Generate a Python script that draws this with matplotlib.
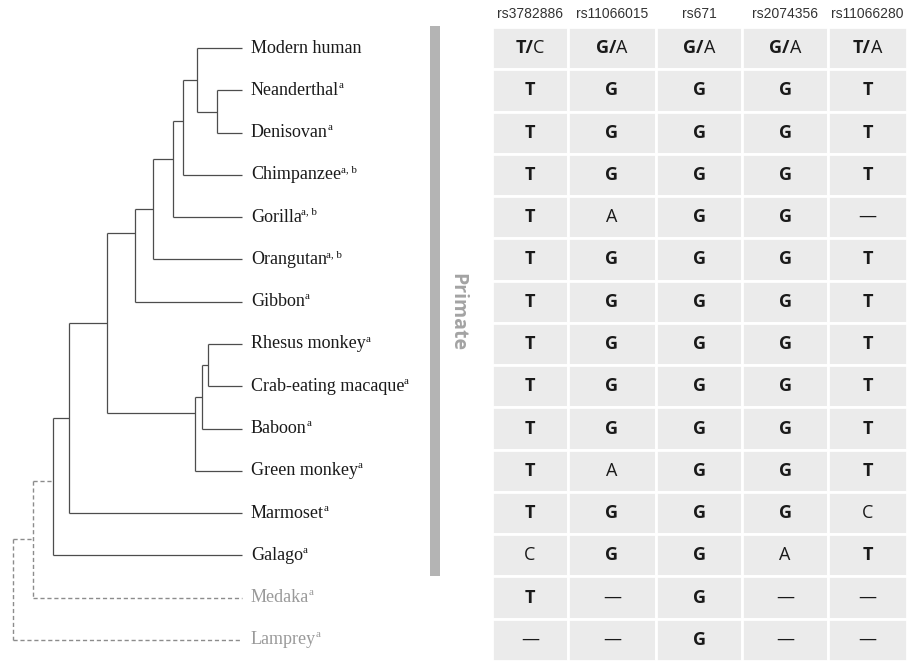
import numpy as np
import matplotlib.pyplot as plt
from matplotlib.patches import Rectangle

# ---- data -------------------------------------------------------------
species = ["Modern human", "Neanderthal", "Denisovan", "Chimpanzee", "Gorilla",
           "Orangutan", "Gibbon", "Rhesus monkey", "Crab-eating macaque", "Baboon",
           "Green monkey", "Marmoset", "Galago", "Medaka", "Lamprey"]
notes = ["", "a", "a", "a, b", "a, b", "a, b", "a", "a", "a", "a", "a", "a", "a", "a", "a"]
outgroups = ["Medaka", "Lamprey"]

snps = ["rs3782886", "rs11066015", "rs671", "rs2074356", "rs11066280"]
major = ["T", "G", "G", "G", "T"]
minor = ["C", "A", "A", "A", "A"]
# one string per non-human species, '-' = no ortholog base
alleles = ["TGGGT",   # Neanderthal
           "TGGGT",   # Denisovan
           "TGGGT",   # Chimpanzee
           "TAGG-",   # Gorilla
           "TGGGT",   # Orangutan
           "TGGGT",   # Gibbon
           "TGGGT",   # Rhesus monkey
           "TGGGT",   # Crab-eating macaque
           "TGGGT",   # Baboon
           "TAGGT",   # Green monkey
           "TGGGC",   # Marmoset
           "CGGAT",   # Galago
           "T-G--",   # Medaka
           "--G--"]   # Lamprey

# internal nodes: name, depth (distance from tips), children, split point
tree = [("ND", 25, [1, 2], 0.5),
        ("H", 45, [0, "ND"], 0.5),
        ("HC", 59, ["H", 3], 0.43),
        ("HCG", 69, ["HC", 4], 0.40),
        ("GA", 89, ["HCG", 5], 0.5),
        ("Apes", 107, ["GA", 6], 0.26),
        ("RC", 34, [7, 8], 0.5),
        ("RCB", 40, ["RC", 9], 0.5),
        ("OWM", 47, ["RCB", 10], 0.22),
        ("Catarrhini", 135, ["Apes", "OWM"], 0.5),
        ("Anthropoidea", 173, ["Catarrhini", 11], 0.5),
        ("Primates", 189, ["Anthropoidea", 12], 0.46),
        ("Vert", 209, ["Primates", 13], 0.5),
        ("root", 229, ["Vert", 14], 0.5)]
dashed_nodes = {"Vert", "root"}

# ---- layout -----------------------------------------------------------
W, H = 907, 661
tip_x = 242
label_x = 251
table_top, table_bot = 27, 661
col_edges = [492, 568, 656, 742, 828, 907]
n_rows = len(species)
row_h = (table_bot - table_top) / n_rows

fig = plt.figure(figsize=(W / 100, H / 100), dpi=100)
ax = fig.add_axes([0, 0, 1, 1])
ax.set_xlim(0, W)
ax.set_ylim(H, 0)
ax.axis("off")
renderer = fig.canvas.get_renderer()


def row_y(i):
    return table_top + row_h * (i + 0.5)


# ---- tree -------------------------------------------------------------
pos = {i: (tip_x, row_y(i)) for i in range(n_rows)}
for name, depth, kids, split in tree:
    ys = [pos[k][1] for k in kids]
    x = tip_x - depth
    pos[name] = (x, ys[0] + split * (ys[-1] - ys[0]))

for name, depth, kids, split in tree:
    x, _ = pos[name]
    ys = [pos[k][1] for k in kids]
    if name in dashed_nodes:
        style = dict(color="#8c8c8c", lw=1.0, ls=(0, (3, 2)))
    else:
        style = dict(color="#4d4d4d", lw=0.9)
    ax.plot([x, x], [ys[0], ys[-1]], **style, solid_capstyle="butt")
    for k in kids:
        kx, ky = pos[k]
        ax.plot([x, kx], [ky, ky], **style, solid_capstyle="butt")

for i, (sp, note) in enumerate(zip(species, notes)):
    col = "#9a9a9a" if sp in outgroups else "#1a1a1a"
    y = row_y(i)
    t = ax.text(label_x, y, sp, fontsize=13, family="Liberation Serif",
                color=col, ha="left", va="center")
    if note:
        w = t.get_window_extent(renderer).width
        ax.text(label_x + w - 0.5, y - 5, note, fontsize=8,
                family="Liberation Serif", color=col, ha="left", va="center")

# primate bar
ax.add_patch(Rectangle((430, table_top - 1), 10, 577 - table_top,
                       facecolor="#b4b4b4", edgecolor="none"))
ax.text(457, 312, "Primate", rotation=-90, fontsize=14, weight="bold",
        family="Open Sans", color="#a3a3a3", ha="center", va="center")

# ---- table ------------------------------------------------------------
txt = dict(family="Open Sans", fontsize=13, color="#1a1a1a", va="center")
for j, snp in enumerate(snps):
    x0, x1 = col_edges[j], col_edges[j + 1]
    cx = (x0 + x1) / 2
    ax.text(cx, 14, snp, fontsize=10, family="Liberation Sans",
            color="#333333", ha="center", va="center")
    for i in range(n_rows):
        y0 = table_top + i * row_h
        ax.add_patch(Rectangle((x0, y0), x1 - x0, row_h, facecolor="#ebebeb",
                               edgecolor="white", lw=2))
        cy = y0 + row_h / 2
        if i == 0:
            t1 = ax.text(0, cy, major[j] + "/", weight="bold", ha="left", **txt)
            t2 = ax.text(0, cy, minor[j], ha="left", **txt)
            w1 = t1.get_window_extent(renderer).width
            w2 = t2.get_window_extent(renderer).width
            start = cx - (w1 + w2) / 2
            t1.set_x(start)
            t2.set_x(start + w1)
            continue
        a = alleles[i - 1][j]
        if a == "-":
            ax.text(cx, cy, "\u2014", ha="center", **txt)
        elif a == major[j]:
            ax.text(cx, cy, a, weight="bold", ha="center", **txt)
        else:
            ax.text(cx, cy, a, ha="center", **txt)

fig.savefig("out.png", dpi=100)
